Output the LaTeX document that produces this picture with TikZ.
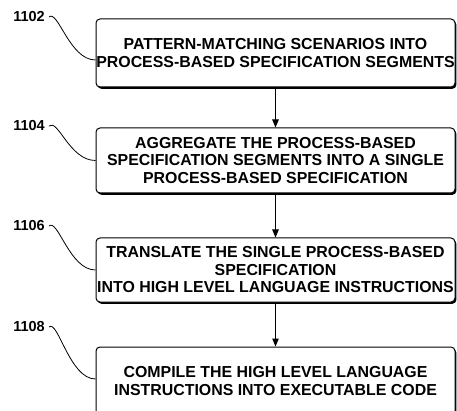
\documentclass[tikz,border=0pt]{standalone}
\usepackage{fontspec}
\setmainfont{Liberation Sans}
\usetikzlibrary{arrows.meta,shadows}
\begin{document}
\begin{tikzpicture}[x=1pt,y=-1pt,
  stepbox/.style={draw=black,line width=1pt,rounded corners=4pt,fill=white,
    minimum width=359pt,align=center,inner sep=0pt,
    font=\fontsize{15.9}{17.5}\selectfont\bfseries,
    drop shadow={shadow xshift=1.4pt,shadow yshift=-1.8pt,fill=black,opacity=1}},
  reflabel/.style={font=\fontsize{14.5}{16}\selectfont\bfseries,inner sep=1pt,anchor=center},
  squig/.style={line width=0.8pt},
  flow/.style={line width=1pt,-{Triangle[length=8pt,width=6.5pt]}}]
\useasboundingbox (0,0) rectangle (457,411);
\begin{scope}
\clip (0,0) rectangle (457,411);
\node[stepbox,minimum height=68pt] (b1) at (275.5,53) {PATTERN-MATCHING SCENARIOS INTO\\PROCESS-BASED SPECIFICATION SEGMENTS};
\node[stepbox,minimum height=65pt] (b2) at (275.5,160.5) {AGGREGATE THE PROCESS-BASED\\SPECIFICATION SEGMENTS INTO A SINGLE\\PROCESS-BASED SPECIFICATION};
\node[stepbox,minimum height=64pt] (b3) at (275.5,270) {TRANSLATE THE SINGLE PROCESS-BASED\\SPECIFICATION\\INTO HIGH LEVEL LANGUAGE INSTRUCTIONS};
\node[stepbox,minimum height=68pt] (b4) at (275.5,381) {COMPILE THE HIGH LEVEL LANGUAGE\\INSTRUCTIONS INTO EXECUTABLE CODE};
\end{scope}
\node[reflabel] (l1) at (29,17) {1102};
\node[reflabel] (l2) at (29,126) {1104};
\node[reflabel] (l3) at (29,226) {1106};
\node[reflabel] (l4) at (29,327) {1108};
\coordinate (e1) at ([yshift=-7pt]b1.west);
\draw[squig] ([xshift=3pt]l1.east) .. controls +(9,-8) and +(-26,0) .. (e1);
\draw[squig] ([xshift=3pt]l2.east) .. controls +(9,-8) and +(-26,0) .. (b2.west);
\draw[squig] ([xshift=3pt]l3.east) .. controls +(9,-8) and +(-26,0) .. (b3.west);
\draw[squig] ([xshift=3pt]l4.east) .. controls +(9,-8) and +(-26,0) .. ([yshift=2pt]b4.west);
\draw[flow] ([yshift=-1.8pt]b1.south) -- (b2.north);
\draw[flow] ([yshift=-1.8pt]b2.south) -- (b3.north);
\draw[flow] ([yshift=-1.8pt]b3.south) -- (b4.north);
\end{tikzpicture}
\end{document}
